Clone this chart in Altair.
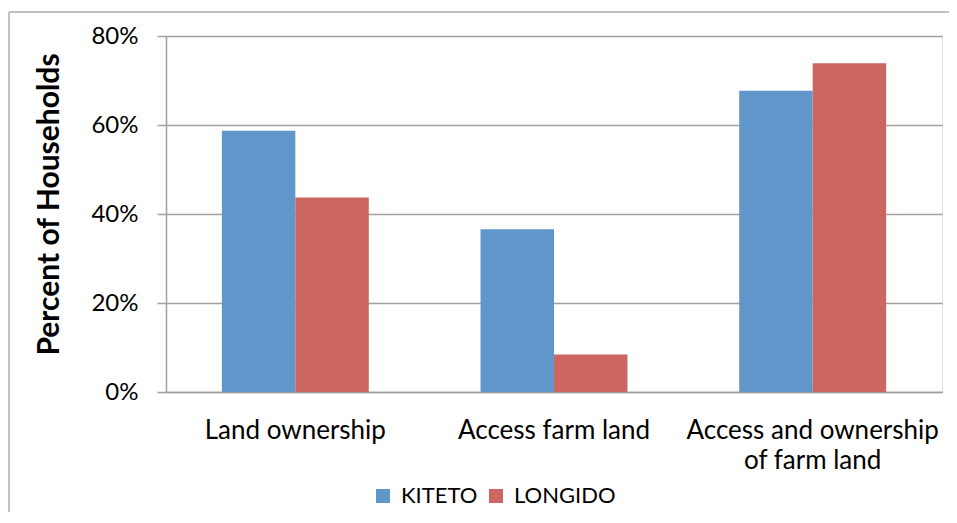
import altair as alt
import pandas as pd

categories = ["Land ownership", "Access farm land", "Access and ownership of farm land"]
kiteto = [58.7, 36.6, 67.7]
longido = [43.7, 8.4, 73.9]
series = ["KITETO", "LONGIDO"]
colors = ["#6096CA", "#CD6661"]

rows = []
for c, k, l in zip(categories, kiteto, longido):
    rows.append({"category": c, "site": "KITETO", "value": k})
    rows.append({"category": c, "site": "LONGIDO", "value": l})
df = pd.DataFrame(rows)

FONT = "Lato"
W, H = 776, 356

bars = alt.Chart(df).mark_bar(stroke=None).encode(
    x=alt.X("category:N", sort=categories, title=None,
            scale=alt.Scale(paddingInner=0.432, paddingOuter=0.216),
            axis=alt.Axis(labelAngle=0, labelFontSize=26, labelFont=FONT, labelColor="#000000",
                          labelPadding=25, ticks=False, domainColor="#A0A0A0", domainWidth=1.5,
                          labelLineHeight=30, labelBaseline="top", labelLimit=0,
                          labelExpr="datum.value == 'Access and ownership of farm land' ? ['Access and ownership', 'of farm land'] : datum.value")),
    xOffset=alt.XOffset("site:N", sort=series),
    y=alt.Y("value:Q", scale=alt.Scale(domain=[0, 80], nice=False),
            axis=alt.Axis(values=[0, 20, 40, 60, 80], labelExpr="datum.value + '%'",
                          labelFontSize=24, labelFont=FONT, labelColor="#000000",
                          tickSize=9, tickColor="#A0A0A0", tickWidth=1.5, labelPadding=19,
                          domainColor="#A0A0A0", domainWidth=1.5,
                          gridColor="#A0A0A0", gridWidth=1.5,
                          title="Percent of Households", titleFont=FONT, titleFontSize=30,
                          titleFontWeight="bold", titleColor="#000000",
                          titleX=-108, titleY=H / 2 - 10, titleAngle=-90, titleBaseline="alphabetic",
                          titleAlign="center")),
    color=alt.Color("site:N", sort=series, scale=alt.Scale(domain=series, range=colors),
                    legend=alt.Legend(title=None, orient="none", direction="horizontal",
                                      legendX=206, legendY=449, symbolType="square",
                                      symbolSize=196, symbolStrokeWidth=0, labelFont=FONT,
                                      labelFontSize=22, labelColor="#000000", columnPadding=7,
                                      labelOffset=7)),
)

frame_df = pd.DataFrame({"a": [0]})
top_line = alt.Chart(frame_df).mark_rule(stroke="#ADADAD", strokeWidth=1.5).encode(
    x=alt.value(-157), x2=alt.value(W + 7), y=alt.value(-24)
)
left_line = alt.Chart(frame_df).mark_rule(stroke="#ADADAD", strokeWidth=1.5).encode(
    x=alt.value(-157), y=alt.value(-24), y2=alt.value(H + 120)
)

chart = alt.layer(top_line, left_line, bars).properties(
    width=W, height=H,
    autosize=alt.AutoSizeParams(type="none"),
    padding={"left": 158, "top": 28, "right": 7, "bottom": 120},
).configure_view(stroke=None).configure(background="white")

chart.save("out.html", embed_options={"renderer": "svg", "actions": False})
